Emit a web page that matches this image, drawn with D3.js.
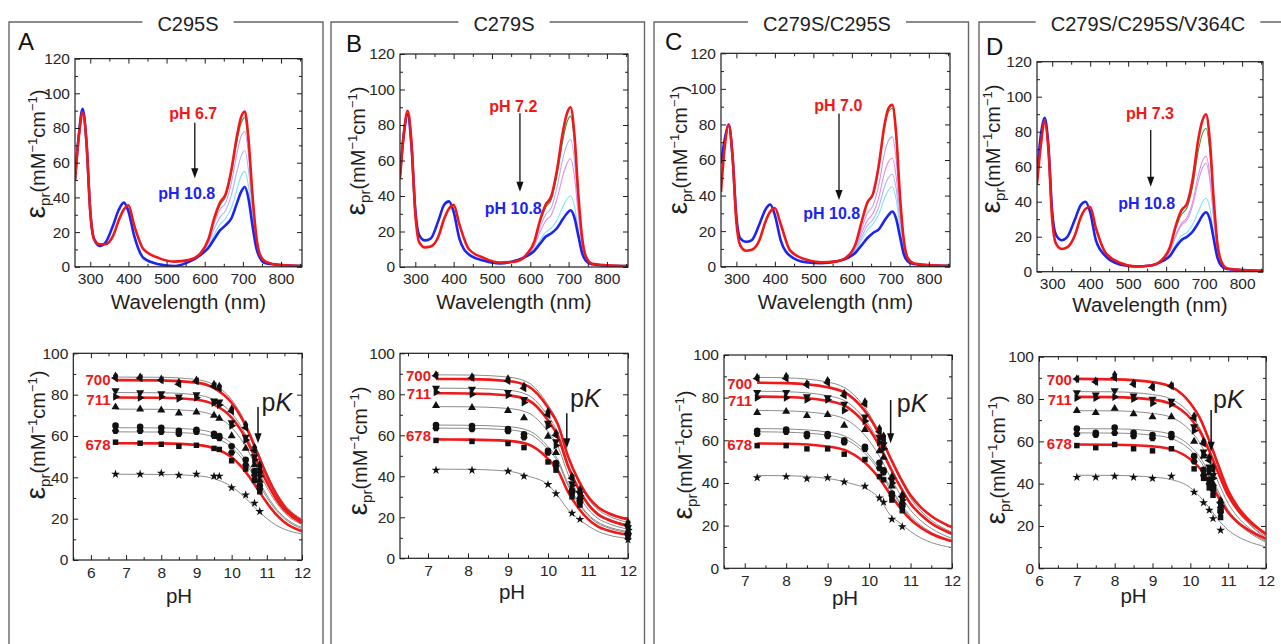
<!DOCTYPE html>
<html><head><meta charset="utf-8">
<script src="https://cdn.jsdelivr.net/npm/d3@7"></script>
<style>
html,body{margin:0;padding:0;background:#fff;}
svg{display:block;font-family:"Liberation Sans",Arial,Helvetica,sans-serif;}
</style></head><body>
<svg id="chart" width="1281" height="644"></svg>
<script>
// ================= DATA =================
const panelLetters = ["A", "B", "C", "D"];
const mutantNames = ["C295S", "C279S", "C279S/C295S", "C279S/C295S/V364C"];
const acidLabels = ["pH 6.7", "pH 7.2", "pH 7.0", "pH 7.3"];
const baseLabel = "pH 10.8";
const wavelengthTicks = [300, 400, 500, 600, 700, 800];
const spectraYTicks = [0, 20, 40, 60, 80, 100, 120];
const titrYTicks = [0, 20, 40, 60, 80, 100];

// absorption spectra (wavelength in nm, epsilon in mM^-1 cm^-1)
const spectraWl = [260,270,280,290,300,310,325,340,360,375,388,400,415,440,480,520,560,590,610,625,640,655,670,685,695,705,715,725,735,745,760,800,855];
const midWl = [560,590,610,625,640,655,670,685,695,705,715,725,735,745,760];

const specA_red  = [50,75,89,72,32,16,13,13,18,27,33,35.5,24,10,5,3,4,8,16,28,37,42,56,76,86,89.5,73,42,18,7,3,1,0.5];
const specA_blue = [50,76,91,72,32,16,12,14,24,33,37,32,18,5,1.5,0.5,3,7,11,16,21,24,28,37,43,46,39,24,11,5,2,1,0.5];
const specA_green = [4,8,15.5,27,35.5,40.5,54,73,82.5,86,70,40.5,17.5,7,3];
const specA_violet = [3.5,7.5,14.5,25,33,37,48.5,66,75,78,64,37,16,6.5,2.5];
const specA_lightblue = [3.5,7.5,13.5,22,28.5,32.5,41.5,55.5,63.5,67,55,32.5,14.5,6,2.5];
const specA_cyan = [3,7,12,18.5,24.5,28,34,45,52,55,46,28,12.5,5.5,2];

const specB_red  = [50,75,88,70,30,14,11,11.5,17,27,33,35,24,10,5,2.5,3,7,14,26,35,40,55,76,86,90,75,42,17,6,2,1,0.5];
const specB_blue = [52,75,86,68,32,18,15,16,26,35,37,31,16,7,3.5,2,3.5,6,9,13,17,19,22,27,30,32,28,18,8,3.5,1.5,0.8,0.5];
const specB_green = [3,7,13.5,25,33.5,38,52,71.5,81,85,71,40,16,6,2];
const specB_lightblue = [3,6.5,12.5,22,29.5,33.5,45,61,68.5,72,60.5,34.5,14,5,2];
const specB_pink = [3,6.5,11.5,19.5,26,29.5,38.5,51.5,58,61,51.5,30,12.5,5,2];
const specB_cyan = [3.5,6,9.5,15,19.5,22,26.5,34,38,40,34.5,21.5,9.5,4,1.5];

const specC_red  = [42,68,80,62,25,12,9,9.5,15,25,31,33,24,9,4,2.5,3,6,13,25,36,41,57,80,89,91,75,40,15,5,2,1,0.5];
const specC_blue = [58,72,80,62,28,16,14,15,24,32,35,29,15,6,2.5,2,3,5,8,12,16,19,21,26,29,31,27,17,7,3,1.5,0.8,0.5];
const specC_green = [3,6,13,24.5,35.5,40.5,56,78.5,87,89,73.5,39.5,15,5,2];
const specC_violet = [3,5.5,11.5,21,30,34.5,46,64,71,73,60.5,33,12.5,4.5,2];
const specC_pink = [3,5.5,10.5,18.5,26,30,39,53,59,61,51,28.5,11,4,2];
const specC_lightblue = [3,5.5,10,16.5,23,26.5,33.5,45,50,52,44,25,10,3.5,1.5];
const specC_cyan = [3,5,9,15,20.5,24,29.5,38.5,43,45,38,22.5,9,3.5,1.5];

const specD_red  = [50,72,86,70,30,16,13,14,21,31,36,37,25,11,5,3,3.5,7,14,26,35,39,53,76,86,90,75,42,16,6,2,1,0.5];
const specD_blue = [55,78,88,72,34,21,18,20,30,38,40,34,18,9,4,3,3.5,6,9,14,18,20,23,28,32,34,30,19,8,3.5,1.5,1,0.5];
const specD_green = [3.5,7,13.5,24.5,32.5,36.5,49,69.5,78.5,82,68.5,39,15,5.5,2];
const specD_pink = [3.5,6.5,12,21,27.5,31,40,55.5,63,66,55.5,32,12.5,5,2];
const specD_violet = [3.5,6.5,11.5,20,26.5,29.5,38,52,59,62,52.5,30.5,12,5,2];
const specD_cyan = [3.5,6,9.5,15.5,20.5,22.5,27,34.5,39.5,42,36.5,22,9,4,1.5];

// titration: series order = diamond, left-tri (700), down-tri, right-tri (711), up-tri, circle, hexagon, square (678), star
const seriesSymbols = ["diamond","triangleLeft","triangleDown","triangleRight","triangleUp","circle","hexagon","square","star"];
const redSeries = [false,true,false,true,false,false,false,true,false];
const labelledSeries = [1,3,7];
const wavelengthLabels = ["700","711","678"];

const titrPhA = [6.7,7.4,8.0,8.5,9.0,9.5,9.65,10.0,10.4,10.65,10.8];
const titrPointsA = [
  [89,88.5,87.5,86,87,85,84,73,65.5,54.5,46],
  [88,88,87,85,86.5,84,83,72,64,53,44],
  [82,81,80.5,79,80,77,76.5,66.5,59.5,50,42],
  [79,78.5,79,78,78.5,76,75,65,58,48.5,40.5],
  [74,73,72.5,71,71.5,70,68.5,60,54,46,38.5],
  [65,64.5,64,62.5,63,61,60,55,48.5,43,36],
  [62.5,62.5,62,61,62,60,59,52,46,41,34.5],
  [57,56.5,56,55,55.5,54,53.5,48,44,38.5,33],
  [41.5,41.5,42,41,41.5,40.5,40.5,35,31.5,27.5,23.5]
];
const fitPhA = [6.7,8,9,9.5,10,10.25,10.5,10.75,11,11.25,11.5,12];
const titrFitsA = [
  [88.5,88.4,87.3,84.7,77.6,71.1,62.4,52.3,42.1,33.4,26.9,19.8],
  [87,86.9,85.8,83.2,76.1,69.7,61.1,51,40.9,32.3,25.9,18.8],
  [81,80.9,79.9,77.5,71,65.2,57.2,48,38.8,30.8,25,18.5],
  [78.6,78.5,77.5,75.2,68.9,63.2,55.5,46.6,37.6,29.9,24.2,17.9],
  [73,72.9,72,69.9,64.1,58.8,51.8,43.5,35.2,28.2,22.9,17.1],
  [64,63.9,63.1,61.3,56.3,51.8,45.6,38.5,31.4,25.2,20.7,15.7],
  [62,61.9,61.2,59.4,54.5,50.1,44.2,37.3,30.3,24.4,20,15.1],
  [56.5,56.4,55.7,54.1,49.7,45.7,40.3,34,27.7,22.3,18.3,13.9],
  [41.5,41.4,40.8,39.3,35.5,32.2,28.2,23.9,20.1,17,14.9,12.6]
];

const titrPhB = [7.2,8.1,9.0,9.4,10.0,10.2,10.6,10.8,12.0];
const titrPointsB = [
  [89.5,88.5,87.5,84,71.5,61,40,33.5,17.5],
  [89,88,86.5,83,70,60,39,32.5,16.5],
  [83,82.5,81,77.5,66,57,36.5,31.5,15],
  [81,80,79.5,76,64.5,55,35.5,30.5,14],
  [74.5,73.5,72,68.5,59.5,51.5,33.5,30,13],
  [65,64.5,63,60.5,52.5,46.5,33,28,12],
  [63.5,63,62,59,51.5,45,32,27.5,11.5],
  [57.5,57,56,54,47,43,30,26,10.5],
  [43,43,42.5,40,36,31.5,22,19,9]
];
const fitPhB = [7.2,8,9,9.5,10,10.25,10.5,10.75,11,11.25,11.5,12];
const titrFitsB = [
  [89.5,89.4,88.4,85.8,74.8,66,49.8,38.1,29.2,23.7,20.8,17.5],
  [87.5,87.4,86.5,84,73.5,65.1,49.7,38.5,30.1,24.9,22.1,18.9],
  [83,82.9,82,79.6,69.4,61.2,46.3,35.4,27.2,22.1,19.4,16.4],
  [80.5,80.4,79.5,77.2,67.3,59.4,44.9,34.3,26.4,21.4,18.8,15.8],
  [74,73.9,73.1,71,61.8,54.5,41.1,31.3,24,19.4,17,14.2],
  [65,64.9,64.2,62.4,54.4,48,36.4,27.9,21.5,17.6,15.4,13.1],
  [63.5,63.4,62.7,60.9,53.1,46.9,35.4,27.1,20.9,17,14.9,12.5],
  [58,57.9,57.3,55.6,48.5,42.8,32.4,24.8,19.1,15.5,13.6,11.5],
  [43.5,43.4,42.5,40.1,35.9,30.4,23.8,19.4,15.9,13.1,11.4,9.7]
];

const titrPhC = [7.3,8.0,8.5,9.0,9.4,9.9,10.25,10.35,10.55,10.8];
const titrPointsC = [
  [89.5,90,86.5,88,82,78,65.5,62,43,34.5],
  [89,89,86,87,81,77,64,60.5,42,33.5],
  [82.5,82.5,80.5,80,77,71,61.5,58,41.5,33],
  [80,80,79,79,74,69,59,56,40,32],
  [73,73.5,71.5,72,67,65,55,52,38.5,31],
  [64.5,65,63,63,60,57,49.5,46,35,30],
  [63,64,62,62,59,56,47,45,34,29],
  [57.5,57.5,56,56,53.5,51,43,41.5,32,27],
  [42.5,43,42,42.5,40.5,38.5,33,31,23,19.5]
];
const fitPhC = [7.3,8,9,9.5,10,10.25,10.5,10.75,11,11.25,11.5,12];
const titrFitsC = [
  [89.5,89.3,87.3,83.5,72.4,63.4,52.3,41.8,32.9,26.9,22.5,16.9],
  [87,86.8,84.9,81.4,71,62.7,52.3,42.5,34.2,28.6,24.5,19.2],
  [83,82.8,80.9,77.5,67.1,58.9,48.5,38.8,30.6,25,20.9,15.7],
  [80.5,80.3,78.5,75.2,65.3,57.4,47.5,38.3,30.3,25.1,21.1,16.2],
  [74,73.8,72.2,69.1,59.9,52.5,43.3,34.6,27.3,22.3,18.7,14],
  [65.5,65.3,63.9,61.2,53.1,46.6,38.5,30.9,24.5,20.1,16.9,12.9],
  [64,63.8,62.4,59.8,51.8,45.5,37.5,30.1,23.7,19.5,16.3,12.3],
  [58.5,58.4,57.1,54.7,47.7,42.1,35,28.4,22.8,19,16.2,12.7],
  [43.5,43.4,42.1,40.1,36.6,32.8,25.2,21.1,17.3,14.2,12.1,9.7]
];

const titrPhD = [7.0,7.5,8.0,8.5,9.0,9.5,10.1,10.35,10.5,10.6,10.8];
const titrPointsD = [
  [89.5,88.5,91.5,87.5,86,86.5,72,60,52.5,48,32],
  [89.5,88,90,87,85.5,86,71,59,51,46.5,31],
  [83,82,84,81.5,80,79,67,55,48,44,30.5],
  [80.5,80.5,81,80,78,77.5,65,53.5,46.5,42.5,29.5],
  [74.5,73.5,75.5,73,71.5,71.5,60,53,45,40,29.5],
  [66,64,66.5,64,63,63.5,53,46.5,42,38,27.5],
  [63.5,63,64,62.5,61.5,62,50.5,44,40,37,26.5],
  [58,57,58.5,56.5,55.5,56.5,47,42.5,38,34.5,24],
  [43,43,43.5,43,42.5,43.5,36,31,27.5,23.5,18]
];
const fitPhD = [7.0,8,9,9.5,10,10.25,10.5,10.75,11,11.25,11.5,12];
const titrFitsD = [
  [89.5,89.3,87.9,85.6,77.7,70.7,59.7,47.1,35.3,27.5,22,14.1],
  [89.5,89.3,88,85.7,78,71.1,60.4,48.2,36.7,29.1,23.7,16.1],
  [83.5,83.4,82.1,79.9,72.8,66.3,56.3,44.9,34.2,27,22,14.9],
  [81,80.9,79.7,77.6,70.9,64.8,55.4,44.6,34.4,27.7,23,16.2],
  [74.5,74.4,73.2,71.3,65,59.3,50.4,40.2,30.7,24.3,19.9,13.5],
  [66,65.9,64.9,63.2,57.7,52.7,44.9,36,27.7,22.2,18.3,12.7],
  [64,63.9,62.9,61.3,55.9,51,43.5,34.8,26.7,21.3,17.6,12.2],
  [58.5,58.4,57.6,56.2,51.5,47.3,40.8,33.4,26.4,21.8,18.5,13.9],
  [44,43.9,43.1,41.9,38.1,33.9,28.6,22.7,18.1,15,12.9,10.1]
];

// ================= STYLE / LAYOUT =================
const RED = "#f01818", BLUE = "#1c24f0", INK = "#1e1e1e";
const midColors = {green:"#3f9a3f", violet:"#c49cf0", pink:"#e48ee6", lightblue:"#a9b7ff", cyan:"#7fe5ef"};

const panels = [
  {letter:0, red:specA_red, blue:specA_blue,
   mids:[[specA_green,"green"],[specA_violet,"violet"],[specA_lightblue,"lightblue"],[specA_cyan,"cyan"]],
   ph:titrPhA, pts:titrPointsA, fitPh:fitPhA, fits:titrFitsA,
   box:{x0:9,x1:323}, titleX:188, letterPos:[18,50],
   sp:{x0:75,x1:302,yTop:58.6,yBot:266.8, labX:45, labY:154,
       acid:[570,88.5], arrow:[574,83,51], base:[553,42.4], xTitleY:309},
   ti:{x0:73.3,x1:302,yTop:353.3,yBot:560,xDom:[5.5,12],xTicks:[6,7,8,9,10,11,12], labX:45, labY:435,
       labelPx:[379.5,400,444.5],
       pK:[10.75,74,56.5], pKText:[10.85,72], pHTitle:[179,603]}},
  {letter:1, red:specB_red, blue:specB_blue,
   mids:[[specB_green,"green"],[specB_lightblue,"lightblue"],[specB_pink,"pink"],[specB_cyan,"cyan"]],
   ph:titrPhB, pts:titrPointsB, fitPh:fitPhB, fits:titrFitsB,
   box:{x0:331,x1:644.5}, titleX:504, letterPos:[346,51.5],
   sp:{x0:400,x1:628,yTop:54,yBot:267, labX:365, labY:151,
       acid:[555.7,90.3], arrow:[573,86.6,42.4], base:[555.7,33], xTitleY:309},
   ti:{x0:400,x1:628,yTop:353.3,yBot:558.3,xDom:[6.3,12],xTicks:[7,8,9,10,11,12], labX:367, labY:451,
       labelPx:[376,394,435.5],
       pK:[10.47,70.7,53.7], pKText:[10.55,73.7], pHTitle:[512,599]}},
  {letter:2, red:specC_red, blue:specC_blue,
   mids:[[specC_green,"green"],[specC_violet,"violet"],[specC_pink,"pink"],[specC_lightblue,"lightblue"],[specC_cyan,"cyan"]],
   ph:titrPhC, pts:titrPointsC, fitPh:fitPhC, fits:titrFitsC,
   box:{x0:654,x1:968.5}, titleX:827, letterPos:[665,50],
   sp:{x0:721,x1:950,yTop:53.3,yBot:266.7, labX:687, labY:150,
       acid:[564.8,90.8], arrow:[566.6,86.2,37.5], base:[547.6,30], xTitleY:309},
   ti:{x0:724,x1:952,yTop:355,yBot:568.3,xDom:[6.5,12],xTicks:[7,8,9,10,11,12], labX:692, labY:455,
       labelPx:[383.5,401,445],
       pK:[10.52,78.9,58.6], pKText:[10.67,73.4], pHTitle:[845,605]}},
  {letter:3, red:specD_red, blue:specD_blue,
   mids:[[specD_green,"green"],[specD_pink,"pink"],[specD_violet,"violet"],[specD_cyan,"cyan"]],
   ph:titrPhD, pts:titrPointsD, fitPh:fitPhD, fits:titrFitsD,
   box:{x0:979,x1:1295}, titleX:1148, letterPos:[986,55],
   sp:{x0:1037,x1:1263,yTop:61.7,yBot:271.7, labX:1000, labY:149,
       acid:[557.5,90.5], arrow:[559.4,81,48.6], base:[548.8,39], xTitleY:312},
   ti:{x0:1039,x1:1266,yTop:356.7,yBot:568.3,xDom:[6,12],xTicks:[6,7,8,9,10,11,12], labX:1005, labY:460,
       labelPx:[380,400,444],
       pK:[10.55,74.8,55.1], pKText:[10.6,75.6], pHTitle:[1133.5,603]}}
];

const svg = d3.select("#chart");

function symbolPath(name) {
  if (name === "hexagon") {
    const r = 3.6, pts = d3.range(6).map(k => [r*Math.cos(Math.PI/3*k), r*Math.sin(Math.PI/3*k)]);
    return "M" + pts.map(p => p.join(",")).join("L") + "Z";
  }
  const map = {diamond:[d3.symbolDiamond,24], triangleLeft:[d3.symbolTriangle,28], triangleRight:[d3.symbolTriangle,28],
    triangleDown:[d3.symbolTriangle,28], triangleUp:[d3.symbolTriangle,28], circle:[d3.symbolCircle,34],
    square:[d3.symbolSquare,30], star:[d3.symbolStar,24]};
  const [t,s] = map[name];
  return d3.symbol(t, s)();
}
const symbolRot = {triangleLeft:-90, triangleRight:90, triangleDown:180};

function drawAxes(g, x, y, f, xMajor, xMinor, yMajor, yMinor, xPad) {
  const style = sel => { sel.select(".domain").remove(); sel.selectAll("line").attr("stroke", INK).attr("stroke-width", 1);
    sel.selectAll("text").attr("font-size", 15.5).attr("fill", "#262626").attr("font-family", "Liberation Sans, Arial, sans-serif"); };
  g.append("g").attr("transform", `translate(0,${f.yBot})`).call(d3.axisBottom(x).tickValues(xMajor).tickSize(-5).tickPadding(xPad).tickFormat(d3.format("d"))).call(style);
  g.append("g").attr("transform", `translate(0,${f.yBot})`).call(d3.axisBottom(x).tickValues(xMinor).tickSize(-3).tickFormat("")).call(style);
  g.append("g").attr("transform", `translate(0,${f.yTop})`).call(d3.axisTop(x).tickValues(xMajor).tickSize(-5).tickFormat("")).call(style);
  g.append("g").attr("transform", `translate(0,${f.yTop})`).call(d3.axisTop(x).tickValues(xMinor).tickSize(-3).tickFormat("")).call(style);
  g.append("g").attr("transform", `translate(${f.x0},0)`).call(d3.axisLeft(y).tickValues(yMajor).tickSize(-5).tickPadding(5)).call(style);
  g.append("g").attr("transform", `translate(${f.x0},0)`).call(d3.axisLeft(y).tickValues(yMinor).tickSize(-3).tickFormat("")).call(style);
  g.append("g").attr("transform", `translate(${f.x1},0)`).call(d3.axisRight(y).tickValues(yMajor).tickSize(-5).tickFormat("")).call(style);
  g.append("g").attr("transform", `translate(${f.x1},0)`).call(d3.axisRight(y).tickValues(yMinor).tickSize(-3).tickFormat("")).call(style);
  g.append("rect").attr("x", f.x0).attr("y", f.yTop).attr("width", f.x1 - f.x0).attr("height", f.yBot - f.yTop)
    .attr("fill", "none").attr("stroke", INK).attr("stroke-width", 1.2);
}

function yLabel(g, x, yc) {
  const t = g.append("text").attr("transform", `translate(${x},${yc}) rotate(-90)`).attr("text-anchor", "middle").attr("fill", INK);
  t.append("tspan").attr("font-size", 28).text("ε");
  t.append("tspan").attr("font-size", 15).attr("dy", 5).text("pr");
  t.append("tspan").attr("font-size", 20).attr("dy", -5).text("(mM");
  t.append("tspan").attr("font-size", 13).attr("dy", -8).text("−1");
  t.append("tspan").attr("font-size", 20).attr("dy", 8).text("cm");
  t.append("tspan").attr("font-size", 13).attr("dy", -8).text("−1");
  t.append("tspan").attr("font-size", 20).attr("dy", 8).text(")");
}

function arrow(g, x, y1, y2, w) {
  g.append("line").attr("x1", x).attr("x2", x).attr("y1", y1).attr("y2", y2 - 8).attr("stroke", "#111").attr("stroke-width", w);
  g.append("path").attr("d", `M${x-3.6},${y2-10}L${x+3.6},${y2-10}L${x},${y2}Z`).attr("fill", "#111");
}

panels.forEach(p => {
  const g = svg.append("g");
  // panel box with title
  const title = g.append("text").attr("x", p.titleX).attr("y", 31).attr("text-anchor", "middle")
    .attr("font-size", 20).attr("fill", INK).text(mutantNames[p.letter]);
  const tw = title.node().getComputedTextLength();
  g.append("path").attr("d", `M${p.box.x0},700V22H${p.titleX - tw/2 - 15}M${p.titleX + tw/2 + 15},22H${p.box.x1}V700`)
    .attr("fill", "none").attr("stroke", "#666").attr("stroke-width", 1.4);
  g.append("text").attr("x", p.letterPos[0]).attr("y", p.letterPos[1]).attr("font-size", 24).attr("fill", "#111").text(panelLetters[p.letter]);

  // ---------- spectra ----------
  const s = p.sp;
  const xs = d3.scaleLinear().domain([260, 855]).range([s.x0, s.x1]);
  const ys = d3.scaleLinear().domain([0, 120]).range([s.yBot, s.yTop]);
  const clipId = "clip" + p.letter;
  g.append("clipPath").attr("id", clipId).append("rect").attr("x", s.x0).attr("y", s.yTop).attr("width", s.x1 - s.x0).attr("height", s.yBot - s.yTop);
  const sl = d3.line().x(d => xs(d[0])).y(d => ys(d[1])).curve(d3.curveMonotoneX);
  const curves = g.append("g").attr("clip-path", `url(#${clipId})`);
  p.mids.forEach(([arr, col]) => {
    curves.append("path").attr("d", sl(midWl.map((w, i) => [w, arr[i]]))).attr("fill", "none")
      .attr("stroke", midColors[col]).attr("stroke-width", 1.1);
  });
  curves.append("path").attr("d", sl(spectraWl.map((w, i) => [w, p.blue[i]]))).attr("fill", "none").attr("stroke", BLUE).attr("stroke-width", 2.6);
  curves.append("path").attr("d", sl(spectraWl.map((w, i) => [w, p.red[i]]))).attr("fill", "none").attr("stroke", RED).attr("stroke-width", 2.6);
  drawAxes(g, xs, ys, s, wavelengthTicks, [350,450,550,650,750,850], spectraYTicks, [10,30,50,70,90,110], 6);
  yLabel(g, s.labX, s.labY);
  g.append("text").attr("x", (s.x0 + s.x1)/2).attr("y", s.xTitleY).attr("text-anchor", "middle").attr("font-size", 20.5).attr("fill", INK).text("Wavelength (nm)");
  g.append("text").attr("x", xs(s.acid[0])).attr("y", ys(s.acid[1])).attr("dy", "0.36em").attr("text-anchor", "middle")
    .attr("font-size", 16).attr("font-weight", "bold").attr("fill", RED).text(acidLabels[p.letter]);
  g.append("text").attr("x", xs(s.base[0])).attr("y", ys(s.base[1])).attr("dy", "0.36em").attr("text-anchor", "middle")
    .attr("font-size", 16).attr("font-weight", "bold").attr("fill", BLUE).text(baseLabel);
  arrow(g, xs(s.arrow[0]), ys(s.arrow[1]), ys(s.arrow[2]), 1.3);

  // ---------- titration ----------
  const t = p.ti;
  const xt = d3.scaleLinear().domain(t.xDom).range([t.x0, t.x1]);
  const yt = d3.scaleLinear().domain([0, 100]).range([t.yBot, t.yTop]);
  const tl = d3.line().x(d => xt(d[0])).y(d => yt(d[1])).curve(d3.curveMonotoneX);
  const minorX = d3.range(Math.ceil(t.xDom[0]*2)/2, 12.01, 0.5).filter(v => Math.abs(v - Math.round(v)) > 0.1);
  drawAxes(g, xt, yt, t, t.xTicks, minorX, titrYTicks, [10,30,50,70,90], 7);
  p.fits.forEach((f, i) => { if (!redSeries[i])
    g.append("path").attr("d", tl(p.fitPh.map((ph, j) => [ph, f[j]]))).attr("fill", "none").attr("stroke", "#8c8c8c").attr("stroke-width", 1); });
  p.fits.forEach((f, i) => { if (redSeries[i])
    g.append("path").attr("d", tl(p.fitPh.map((ph, j) => [ph, f[j]]))).attr("fill", "none").attr("stroke", RED).attr("stroke-width", 2.6); });
  p.pts.forEach((ser, i) => {
    const name = seriesSymbols[i], d = symbolPath(name), rot = symbolRot[name] || 0;
    ser.forEach((v, j) => {
      g.append("path").attr("d", d).attr("fill", "#111")
        .attr("transform", `translate(${xt(p.ph[j])},${yt(v)}) rotate(${rot})`);
    });
  });
  labelledSeries.forEach((si, k) => {
    g.append("text").attr("x", xt(p.ph[0]) - 5).attr("y", t.labelPx[k]).attr("dy", "0.36em").attr("text-anchor", "end")
      .attr("font-size", 15).attr("font-weight", "bold").attr("fill", RED).text(wavelengthLabels[k]);
  });
  arrow(g, xt(t.pK[0]), yt(t.pK[1]), yt(t.pK[2]), 1.5);
  const pk = g.append("text").attr("x", xt(t.pKText[0])).attr("y", yt(t.pKText[1])).attr("font-size", 25).attr("fill", INK);
  pk.append("tspan").text("p");
  pk.append("tspan").attr("font-style", "italic").text("K");
  yLabel(g, t.labX, t.labY);
  g.append("text").attr("x", t.pHTitle[0]).attr("y", t.pHTitle[1]).attr("text-anchor", "middle").attr("font-size", 20.5).attr("fill", INK).text("pH");
});
</script>
</body></html>
